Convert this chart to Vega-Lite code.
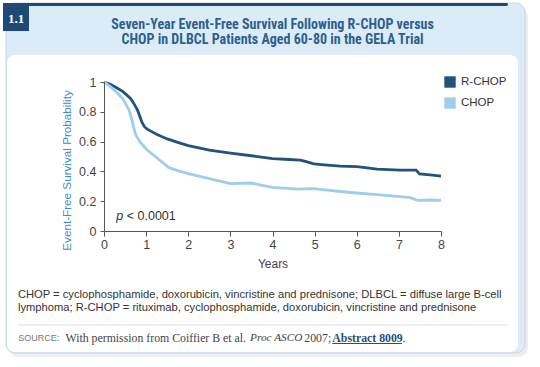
{
  "$schema": "https://vega.github.io/schema/vega-lite/v6.json",
  "width": 337,
  "height": 149,
  "autosize": "none",
  "padding": {"left": 104, "top": 82, "right": 99, "bottom": 136},
  "background": "white",
  "config": {
    "view": {"stroke": null},
    "font": "Liberation Sans",
    "axis": {"grid": false, "labelFlush": false, "labelOverlap": false},
    "axisY": {"labelOverlap": false, "tickCount": 6},
    "legend": {"zindex": 1}
  },
  "data": {
    "values": [
      {"t": 0, "s": 1.0, "g": "R-CHOP"},
      {"t": 0.15, "s": 0.985, "g": "R-CHOP"},
      {"t": 0.31, "s": 0.96, "g": "R-CHOP"},
      {"t": 0.45, "s": 0.935, "g": "R-CHOP"},
      {"t": 0.55, "s": 0.91, "g": "R-CHOP"},
      {"t": 0.63, "s": 0.89, "g": "R-CHOP"},
      {"t": 0.7, "s": 0.86, "g": "R-CHOP"},
      {"t": 0.79, "s": 0.815, "g": "R-CHOP"},
      {"t": 0.85, "s": 0.77, "g": "R-CHOP"},
      {"t": 0.9, "s": 0.73, "g": "R-CHOP"},
      {"t": 0.96, "s": 0.7, "g": "R-CHOP"},
      {"t": 1.02, "s": 0.685, "g": "R-CHOP"},
      {"t": 1.1, "s": 0.672, "g": "R-CHOP"},
      {"t": 1.26, "s": 0.648, "g": "R-CHOP"},
      {"t": 1.5, "s": 0.618, "g": "R-CHOP"},
      {"t": 1.75, "s": 0.595, "g": "R-CHOP"},
      {"t": 2.0, "s": 0.573, "g": "R-CHOP"},
      {"t": 2.5, "s": 0.542, "g": "R-CHOP"},
      {"t": 3.0, "s": 0.523, "g": "R-CHOP"},
      {"t": 3.5, "s": 0.505, "g": "R-CHOP"},
      {"t": 4.0, "s": 0.486, "g": "R-CHOP"},
      {"t": 4.4, "s": 0.48, "g": "R-CHOP"},
      {"t": 4.66, "s": 0.476, "g": "R-CHOP"},
      {"t": 4.8, "s": 0.465, "g": "R-CHOP"},
      {"t": 4.98, "s": 0.45, "g": "R-CHOP"},
      {"t": 5.3, "s": 0.442, "g": "R-CHOP"},
      {"t": 5.61, "s": 0.435, "g": "R-CHOP"},
      {"t": 6.0, "s": 0.432, "g": "R-CHOP"},
      {"t": 6.2, "s": 0.425, "g": "R-CHOP"},
      {"t": 6.48, "s": 0.415, "g": "R-CHOP"},
      {"t": 7.03, "s": 0.409, "g": "R-CHOP"},
      {"t": 7.41, "s": 0.409, "g": "R-CHOP"},
      {"t": 7.49, "s": 0.383, "g": "R-CHOP"},
      {"t": 7.74, "s": 0.376, "g": "R-CHOP"},
      {"t": 8.0, "s": 0.368, "g": "R-CHOP"},
      {"t": 0, "s": 1.0, "g": "CHOP"},
      {"t": 0.15, "s": 0.97, "g": "CHOP"},
      {"t": 0.31, "s": 0.928, "g": "CHOP"},
      {"t": 0.45, "s": 0.885, "g": "CHOP"},
      {"t": 0.59, "s": 0.815, "g": "CHOP"},
      {"t": 0.64, "s": 0.77, "g": "CHOP"},
      {"t": 0.67, "s": 0.736, "g": "CHOP"},
      {"t": 0.71, "s": 0.69, "g": "CHOP"},
      {"t": 0.75, "s": 0.648, "g": "CHOP"},
      {"t": 0.85, "s": 0.6, "g": "CHOP"},
      {"t": 1.02, "s": 0.545, "g": "CHOP"},
      {"t": 1.26, "s": 0.49, "g": "CHOP"},
      {"t": 1.54, "s": 0.425, "g": "CHOP"},
      {"t": 1.75, "s": 0.405, "g": "CHOP"},
      {"t": 2.0, "s": 0.385, "g": "CHOP"},
      {"t": 2.5, "s": 0.352, "g": "CHOP"},
      {"t": 3.0, "s": 0.318, "g": "CHOP"},
      {"t": 3.5, "s": 0.322, "g": "CHOP"},
      {"t": 3.7, "s": 0.31, "g": "CHOP"},
      {"t": 4.0, "s": 0.293, "g": "CHOP"},
      {"t": 4.6, "s": 0.281, "g": "CHOP"},
      {"t": 4.98, "s": 0.284, "g": "CHOP"},
      {"t": 5.3, "s": 0.274, "g": "CHOP"},
      {"t": 5.61, "s": 0.265, "g": "CHOP"},
      {"t": 6.0, "s": 0.255, "g": "CHOP"},
      {"t": 6.55, "s": 0.243, "g": "CHOP"},
      {"t": 7.03, "s": 0.23, "g": "CHOP"},
      {"t": 7.27, "s": 0.224, "g": "CHOP"},
      {"t": 7.45, "s": 0.205, "g": "CHOP"},
      {"t": 7.74, "s": 0.208, "g": "CHOP"},
      {"t": 8.0, "s": 0.205, "g": "CHOP"}
    ]
  },
  "layer": [
    {
      "data": {"values": [{}]},
      "mark": {"type": "rect", "clip": false, "fill": "#000000", "opacity": 0.07, "cornerRadius": 10},
      "encoding": {
        "x": {"datum": -2.255, "type": "quantitative"}, "x2": {"datum": 10.065},
        "y": {"datum": 1.503, "type": "quantitative"}, "y2": {"datum": -0.846}
      }
    },
    {
      "data": {"values": [{}]},
      "mark": {"type": "rect", "clip": false, "fill": "#dbecf8", "stroke": "#c4ced6", "strokeWidth": 0.8, "cornerRadius": 9},
      "encoding": {
        "x": {"datum": -2.326, "type": "quantitative"}, "x2": {"datum": 9.994},
        "y": {"datum": 1.53, "type": "quantitative"}, "y2": {"datum": -0.819}
      }
    },
    {
      "data": {"values": [{}]},
      "mark": {"type": "rect", "clip": false, "fill": "white", "cornerRadius": 8},
      "encoding": {
        "x": {"datum": -2.303, "type": "quantitative"}, "x2": {"datum": 9.828},
        "y": {"datum": 1.181, "type": "quantitative"}, "y2": {"datum": -0.812}
      }
    },
    {
      "data": {"values": [{}]},
      "mark": {"type": "rect", "clip": false, "fill": "#1f4a78", "cornerRadius": 1.5},
      "encoding": {
        "x": {"datum": -2.326, "type": "quantitative"}, "x2": {"datum": 9.591},
        "y": {"datum": 1.53, "type": "quantitative"}, "y2": {"datum": 1.51}
      }
    },
    {
      "data": {"values": [{}]},
      "mark": {"type": "rect", "clip": false, "fill": "#1f4a78"},
      "encoding": {
        "x": {"datum": -2.398, "type": "quantitative"}, "x2": {"datum": -1.78},
        "y": {"datum": 1.53, "type": "quantitative"}, "y2": {"datum": 1.342}
      }
    },
    {
      "data": {"values": [{}]},
      "mark": {"type": "text", "clip": false, "text": "1.1", "font": "Liberation Serif", "fontSize": 13, "fontWeight": "bold", "color": "white", "align": "center", "baseline": "middle"},
      "encoding": {
        "x": {"datum": -2.089, "type": "quantitative"},
        "y": {"datum": 1.423, "type": "quantitative"}
      }
    },
    {
      "data": {"values": [{}]},
      "mark": {"type": "text", "clip": false, "text": "Seven-Year Event-Free Survival Following R-CHOP versus", "font": "Roboto Condensed, Roboto, sans-serif", "fontSize": 14, "fontWeight": "bold", "color": "#2e5f8e", "align": "center", "baseline": "middle"},
      "encoding": {
        "x": {"datum": 4.0, "type": "quantitative"},
        "y": {"datum": 1.385, "type": "quantitative"}
      }
    },
    {
      "data": {"values": [{}]},
      "mark": {"type": "text", "clip": false, "text": "CHOP in DLBCL Patients Aged 60-80 in the GELA Trial", "font": "Roboto Condensed, Roboto, sans-serif", "fontSize": 14, "fontWeight": "bold", "color": "#2e5f8e", "align": "center", "baseline": "middle"},
      "encoding": {
        "x": {"datum": 4.0, "type": "quantitative"},
        "y": {"datum": 1.28, "type": "quantitative"}
      }
    },
    {
      "mark": {"type": "line", "strokeWidth": 2.8, "interpolate": "linear"},
      "encoding": {
        "x": {"field": "t", "type": "quantitative",
          "scale": {"domain": [0, 8], "nice": false, "zero": false},
          "axis": {"values": [0, 1, 2, 3, 4, 5, 6, 7, 8], "format": "d", "title": "Years", "zindex": 2,
            "labelFlush": false, "labelOverlap": false,
            "domainColor": "#555555", "tickColor": "#555555", "tickSize": 5, "labelPadding": 2,
            "labelFontSize": 12.5, "labelColor": "#444444", "titleFontSize": 12, "titleFontWeight": "normal",
            "titleColor": "#444444", "titleY": 27, "titleBaseline": "top"}},
        "y": {"field": "s", "type": "quantitative",
          "scale": {"domain": [0, 1], "nice": false, "zero": false},
          "axis": {"values": [0, 0.2, 0.4, 0.6, 0.8, 1], "format": "~g", "title": "Event-Free Survival Probability", "zindex": 2,
            "labelFlush": false, "labelOverlap": false,
            "domainColor": "#555555", "tickColor": "#555555", "tickSize": 4, "labelPadding": 4,
            "labelFontSize": 12.5, "labelColor": "#444444", "titleFontSize": 11.7, "titleFontWeight": "normal",
            "titleColor": "#3e8bc9", "titleX": -32, "titleY": 88}},
        "color": {"field": "g", "type": "nominal", "sort": ["R-CHOP", "CHOP"],
          "scale": {"domain": ["R-CHOP", "CHOP"], "range": ["#24527f", "#9fcdee"]},
          "legend": {"title": null, "orient": "none", "legendX": 340, "legendY": -6,
            "symbolType": "square", "symbolSize": 130, "symbolStrokeWidth": 0,
            "labelFontSize": 11.5, "labelColor": "#333333", "labelOffset": 5, "rowPadding": 9,
            "encode": {"symbols": {"update": {"fill": {"scale": "color", "field": "value"}, "strokeWidth": {"value": 0}}}}}}
      }
    },
    {
      "data": {"values": [{}]},
      "mark": {"type": "text", "clip": false, "text": "p", "fontStyle": "italic", "fontSize": 12.5, "color": "#333333", "align": "left", "baseline": "middle"},
      "encoding": {
        "x": {"datum": 0.29, "type": "quantitative"},
        "y": {"datum": 0.1, "type": "quantitative"}
      }
    },
    {
      "data": {"values": [{}]},
      "mark": {"type": "text", "clip": false, "text": "< 0.0001", "fontSize": 12.5, "color": "#333333", "align": "left", "baseline": "middle"},
      "encoding": {
        "x": {"datum": 0.54, "type": "quantitative"},
        "y": {"datum": 0.1, "type": "quantitative"}
      }
    },
    {
      "data": {"values": [{}]},
      "mark": {"type": "text", "clip": false, "text": "CHOP = cyclophosphamide, doxorubicin, vincristine and prednisone; DLBCL = diffuse large B-cell", "fontSize": 11.2, "color": "#333333", "align": "left", "baseline": "middle"},
      "encoding": {
        "x": {"datum": -2.044, "type": "quantitative"},
        "y": {"datum": -0.428, "type": "quantitative"}
      }
    },
    {
      "data": {"values": [{}]},
      "mark": {"type": "text", "clip": false, "text": "lymphoma; R-CHOP = rituximab, cyclophosphamide, doxorubicin, vincristine and prednisone", "fontSize": 11.2, "color": "#333333", "align": "left", "baseline": "middle"},
      "encoding": {
        "x": {"datum": -2.044, "type": "quantitative"},
        "y": {"datum": -0.516, "type": "quantitative"}
      }
    },
    {
      "data": {"values": [{}]},
      "mark": {"type": "rule", "clip": false, "color": "#dddddd", "strokeWidth": 1},
      "encoding": {
        "x": {"datum": -2.044, "type": "quantitative"}, "x2": {"datum": 9.583},
        "y": {"datum": -0.631, "type": "quantitative"}
      }
    },
    {
      "data": {"values": [{}]},
      "mark": {"type": "text", "clip": false, "text": "SOURCE:", "fontSize": 9, "letterSpacing": 1, "color": "#777777", "align": "left", "baseline": "middle"},
      "encoding": {
        "x": {"datum": -2.034, "type": "quantitative"},
        "y": {"datum": -0.721, "type": "quantitative"}
      }
    },
    {
      "data": {"values": [{}]},
      "mark": {"type": "text", "clip": false, "text": "With permission from Coiffier B et al.", "font": "Liberation Serif", "fontSize": 11.8, "color": "#444444", "align": "left", "baseline": "middle"},
      "encoding": {
        "x": {"datum": -0.914, "type": "quantitative"},
        "y": {"datum": -0.721, "type": "quantitative"}
      }
    },
    {
      "data": {"values": [{}]},
      "mark": {"type": "text", "clip": false, "text": "Proc ASCO", "font": "Liberation Serif", "fontStyle": "italic", "fontSize": 11.3, "color": "#444444", "align": "left", "baseline": "middle"},
      "encoding": {
        "x": {"datum": 3.466, "type": "quantitative"},
        "y": {"datum": -0.721, "type": "quantitative"}
      }
    },
    {
      "data": {"values": [{}]},
      "mark": {"type": "text", "clip": false, "text": "2007;", "font": "Liberation Serif", "fontSize": 11.8, "color": "#444444", "align": "left", "baseline": "middle"},
      "encoding": {
        "x": {"datum": 4.755, "type": "quantitative"},
        "y": {"datum": -0.721, "type": "quantitative"}
      }
    },
    {
      "data": {"values": [{}]},
      "mark": {"type": "text", "clip": false, "text": "Abstract 8009", "font": "Liberation Serif", "fontWeight": "bold", "fontSize": 11.8, "color": "#1f4f7d", "align": "left", "baseline": "middle"},
      "encoding": {
        "x": {"datum": 5.42, "type": "quantitative"},
        "y": {"datum": -0.721, "type": "quantitative"}
      }
    },
    {
      "data": {"values": [{}]},
      "mark": {"type": "rule", "clip": false, "color": "#1f4f7d", "strokeWidth": 1},
      "encoding": {
        "x": {"datum": 5.42, "type": "quantitative"}, "x2": {"datum": 7.074},
        "y": {"datum": -0.755, "type": "quantitative"}
      }
    },
    {
      "data": {"values": [{}]},
      "mark": {"type": "text", "clip": false, "text": ".", "font": "Liberation Serif", "fontSize": 11.8, "color": "#444444", "align": "left", "baseline": "middle"},
      "encoding": {
        "x": {"datum": 7.086, "type": "quantitative"},
        "y": {"datum": -0.721, "type": "quantitative"}
      }
    }
  ]
}
